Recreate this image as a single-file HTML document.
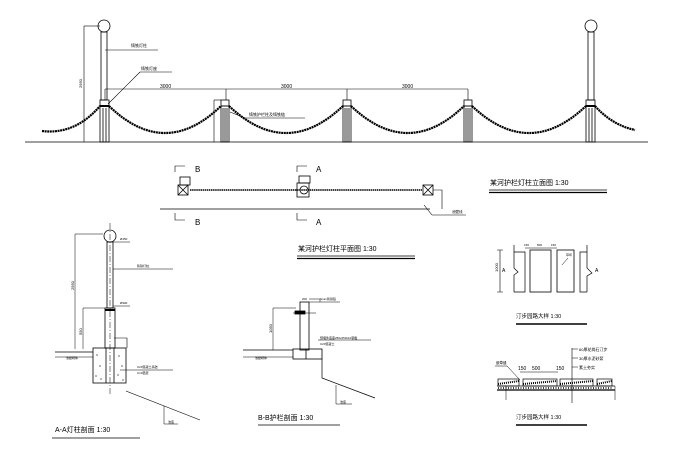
<!DOCTYPE html>
<html><head><meta charset="utf-8"><style>
html,body{margin:0;padding:0;background:#fff;}
svg{display:block;}
text{font-family:"Liberation Sans","Noto Sans CJK SC",sans-serif;fill:#000;}
</style></head><body>
<svg width="680" height="452" viewBox="0 0 680 452" xmlns="http://www.w3.org/2000/svg" stroke="#000" fill="none" stroke-width="0.8">
<!-- ELEVATION -->
<line x1="25" y1="142" x2="648" y2="142"/>
<!-- left lamp -->
<circle cx="104" cy="26" r="6"/>
<rect x="101" y="32" width="6" height="68"/>
<rect x="100" y="100" width="9" height="42"/>
<line x1="100" y1="106" x2="109" y2="106" stroke-width="2"/>
<line x1="103" y1="108" x2="103" y2="142"/><line x1="106" y1="108" x2="106" y2="142"/>
<!-- right lamp -->
<circle cx="591" cy="26" r="6"/>
<rect x="588" y="32" width="6" height="68"/>
<rect x="586" y="100" width="9" height="42"/>
<line x1="586" y1="106" x2="595" y2="106" stroke-width="2"/>
<line x1="589" y1="108" x2="589" y2="142"/><line x1="592" y1="108" x2="592" y2="142"/>
<!-- bollards -->
<g>
<rect x="221" y="100" width="8" height="6"/><rect x="221" y="106" width="8" height="36"/>
<line x1="223" y1="108" x2="223" y2="142"/><line x1="225" y1="108" x2="225" y2="142"/><line x1="227" y1="108" x2="227" y2="142"/>
<rect x="343" y="100" width="8" height="6"/><rect x="343" y="106" width="8" height="36"/>
<line x1="345" y1="108" x2="345" y2="142"/><line x1="347" y1="108" x2="347" y2="142"/><line x1="349" y1="108" x2="349" y2="142"/>
<rect x="464" y="100" width="8" height="6"/><rect x="464" y="106" width="8" height="36"/>
<line x1="466" y1="108" x2="466" y2="142"/><line x1="468" y1="108" x2="468" y2="142"/><line x1="470" y1="108" x2="470" y2="142"/>
</g>
<!-- chains -->
<g stroke-width="2.2" stroke-dasharray="2 0.6">
<path d="M42,131 Q75,135 100,106"/>
<path d="M109,106 Q165,160 221,106"/>
<path d="M229,106 Q286,160 343,106"/>
<path d="M351,106 Q408,160 464,106"/>
<path d="M472,106 Q529,160 586,106"/>
<path d="M595,106 Q612,125 635,130"/>
</g>
<!-- dims -->
<line x1="105" y1="89" x2="468" y2="89" stroke-width="0.6"/>
<line x1="105" y1="89" x2="105" y2="100" stroke-width="0.6"/><line x1="226" y1="89" x2="226" y2="100" stroke-width="0.6"/>
<line x1="347" y1="89" x2="347" y2="100" stroke-width="0.6"/><line x1="468" y1="89" x2="468" y2="100" stroke-width="0.6"/>
<text x="160" y="88" font-size="5" stroke="none">3000</text>
<text x="281" y="88" font-size="5" stroke="none">3000</text>
<text x="402" y="88" font-size="5" stroke="none">3000</text>
<line x1="84" y1="26" x2="84" y2="142" stroke-width="0.6"/><line x1="84" y1="26" x2="100" y2="26" stroke-width="0.6"/>
<text x="82" y="88" font-size="4" stroke="none" transform="rotate(-90 82 88)">2950</text>
<line x1="214" y1="100" x2="214" y2="142" stroke-width="0.6"/><line x1="214" y1="100" x2="221" y2="100" stroke-width="0.6"/>
<line x1="105" y1="50" x2="158" y2="50" stroke-width="0.6"/><text x="131" y="47" font-size="4" stroke="none">铸铁灯柱</text>
<line x1="108" y1="104" x2="140" y2="72" stroke-width="0.6"/><line x1="140" y1="72" x2="172" y2="72" stroke-width="0.6"/><text x="141" y="70" font-size="4" stroke="none">铸铁灯座</text>
<line x1="230" y1="112" x2="245" y2="118" stroke-width="0.6"/><line x1="245" y1="118" x2="305" y2="118" stroke-width="0.6"/><text x="249" y="116" font-size="4" stroke="none">铸铁护栏柱及铸铁链</text>

<!-- PLAN -->
<line x1="160" y1="209" x2="430" y2="209"/>
<line x1="190" y1="190" x2="422" y2="190" stroke-width="1.6" stroke-dasharray="1.5 0.6"/>
<rect x="178" y="185" width="10" height="10"/><path d="M178,185 L188,195 M188,185 L178,195"/>
<rect x="180" y="177" width="10" height="8"/>
<rect x="297" y="183" width="12" height="14"/><circle cx="304" cy="190" r="4"/>
<rect x="299" y="176" width="11" height="7"/>
<rect x="423" y="185" width="10" height="10"/><path d="M423,185 L433,195 M433,185 L423,195"/>
<path d="M433,190 L442,190 L442,209" stroke-width="0.6"/>
<line x1="424" y1="205" x2="432" y2="215" stroke-width="0.6"/><line x1="432" y1="215" x2="466" y2="215" stroke-width="0.6"/>
<text x="452" y="213" font-size="3.5" stroke="none">池壁线</text>
<path d="M175,172 L175,166 L185,166" stroke-width="0.6"/><text x="195" y="172" font-size="8" stroke="none">B</text>
<path d="M175,213 L175,220 L185,220" stroke-width="0.6"/><text x="195" y="225" font-size="8" stroke="none">B</text>
<path d="M297,172 L297,166 L307,166" stroke-width="0.6"/><text x="316" y="172" font-size="8" stroke="none">A</text>
<path d="M297,213 L297,220 L307,220" stroke-width="0.6"/><text x="316" y="225" font-size="8" stroke="none">A</text>
<text x="298" y="251" font-size="7" stroke="none">某河护栏灯柱平面图  1:30</text>
<line x1="297" y1="256" x2="415" y2="256"/><line x1="297" y1="258.5" x2="415" y2="258.5" stroke-width="1.2"/>

<text x="490" y="185" font-size="7" stroke="none">某河护栏灯柱立面图  1:30</text>
<line x1="489" y1="190" x2="607" y2="190"/><line x1="489" y1="192.5" x2="607" y2="192.5" stroke-width="1.2"/>

<!-- DETAIL 1 -->
<path d="M497,250 L503,250 M497,292 L503,292 M500,250 L500,292" stroke-width="0.6"/>
<text x="498" y="272" font-size="4" stroke="none" transform="rotate(-90 498 272)">1000</text>
<path d="M514,245 L514,268 L518,272 L514,275 L514,292" stroke-width="0.7"/>
<path d="M514,252 L525,252 L525,292 L514,292" stroke-width="0.7"/>
<rect x="530" y="250" width="21" height="42"/>
<rect x="557" y="250" width="17" height="42"/>
<path d="M587,245 L587,268 L592,273 L587,276 L587,292" stroke-width="0.7"/>
<path d="M587,252 L580,252 L580,292 L587,292" stroke-width="0.7"/>
<line x1="525" y1="248" x2="557" y2="248" stroke-width="0.5"/>
<text x="524" y="246" font-size="3" stroke="none">150</text><text x="537" y="246" font-size="3" stroke="none">500</text><text x="551" y="246" font-size="3" stroke="none">150</text>
<text x="502" y="272" font-size="5" stroke="none">A</text><text x="595" y="272" font-size="5" stroke="none">A</text>
<line x1="562" y1="265" x2="568" y2="258" stroke-width="0.5"/><text x="566" y="256" font-size="3" stroke="none">草坪</text>
<text x="516" y="318" font-size="5.5" stroke="none">汀步园路大样   1:30</text>
<line x1="516" y1="324" x2="587" y2="324" stroke-width="1.5"/>

<!-- DETAIL 2 -->
<line x1="497" y1="386" x2="615" y2="386"/>
<line x1="497" y1="390" x2="615" y2="390" stroke-width="1.2"/>
<g stroke-width="0.7">
<rect x="498" y="379" width="21" height="7"/><rect x="523" y="379" width="34" height="7"/><rect x="560" y="379" width="33" height="7"/><rect x="597" y="379" width="15" height="7"/>
</g>
<path d="M498,384 L519,381 M523,384 L557,381 M560,384 L593,381 M597,384 L612,381" stroke-width="2" stroke-dasharray="1 1"/>
<line x1="498" y1="388" x2="612" y2="388" stroke-width="1.5" stroke-dasharray="1 1.5"/>
<line x1="506" y1="386" x2="506" y2="400" stroke-width="0.5"/><line x1="615" y1="386" x2="615" y2="400" stroke-width="0.5"/>
<line x1="572" y1="348" x2="572" y2="403" stroke-width="0.6"/>
<path d="M572,349 L578,349 M572,358 L578,358 M572,367 L578,367" stroke-width="0.5"/>
<text x="579" y="351" font-size="4" stroke="none">60厚花岗石汀步</text>
<text x="579" y="360" font-size="4" stroke="none">30厚水泥砂浆</text>
<text x="579" y="369" font-size="4" stroke="none">素土夯实</text>
<path d="M495,366 L507,366 L520,380" stroke-width="0.5"/><text x="496" y="364" font-size="3.5" stroke="none">嵌草缝</text>
<line x1="520" y1="372" x2="558" y2="372" stroke-width="0.5"/>
<text x="518" y="370" font-size="5" stroke="none">150</text><text x="532" y="370" font-size="5" stroke="none">500</text><text x="556" y="370" font-size="5" stroke="none">150</text>
<text x="516" y="419" font-size="5.5" stroke="none">汀步园路大样   1:30</text>
<line x1="516" y1="425" x2="587" y2="425" stroke-width="1.5"/>

<!-- A-A SECTION -->
<circle cx="110" cy="236" r="6"/>
<line x1="110" y1="223" x2="110" y2="396" stroke-dasharray="6 2 1 2" stroke-width="0.5"/>
<rect x="107" y="242" width="6" height="66"/>
<rect x="105" y="308" width="10" height="40"/>
<line x1="105" y1="310" x2="115" y2="310" stroke-width="2"/>
<rect x="93" y="348" width="33" height="35"/>
<line x1="106" y1="348" x2="106" y2="383"/><line x1="114" y1="348" x2="114" y2="383"/>
<path d="M114,338 L127,338 L127,348" stroke-width="0.6"/>
<g fill="#000" stroke="none"><circle cx="97" cy="355" r="0.6"/><circle cx="100" cy="366" r="0.6"/><circle cx="96" cy="376" r="0.6"/><circle cx="101" cy="379" r="0.6"/><circle cx="119" cy="356" r="0.6"/><circle cx="122" cy="366" r="0.6"/><circle cx="118" cy="375" r="0.6"/><circle cx="123" cy="380" r="0.6"/></g>
<line x1="55" y1="352" x2="93" y2="352"/><line x1="55" y1="357" x2="93" y2="357" stroke-width="0.5"/>
<text x="66" y="359" font-size="3" stroke="none">池壁砌体</text>
<path d="M126,391 L200,420" stroke-width="0.6"/><path d="M164,406 L164,424 L178,424" stroke-width="0.5"/><text x="168" y="423" font-size="3" stroke="none">池底</text>
<path d="M75,234 L103,234 M75,234 L75,349 M83,308 L105,308 M83,308 L83,349" stroke-width="0.5"/>
<text x="74" y="290" font-size="4" stroke="none" transform="rotate(-90 74 290)">2950</text>
<text x="82" y="335" font-size="4" stroke="none" transform="rotate(-90 82 335)">550</text>
<line x1="113" y1="269" x2="173" y2="269" stroke-width="0.5"/><text x="137" y="267" font-size="3" stroke="none">铸铁灯柱</text>
<line x1="113" y1="242" x2="130" y2="242" stroke-width="0.5"/><text x="120" y="240" font-size="3" stroke="none">Ø150</text>
<line x1="113" y1="306" x2="130" y2="306" stroke-width="0.5"/><text x="120" y="304" font-size="3" stroke="none">Ø300</text>
<line x1="120" y1="370" x2="173" y2="370" stroke-width="0.5"/><text x="137" y="368" font-size="3" stroke="none">C20混凝土基础</text><text x="137" y="374" font-size="3" stroke="none">C10垫层</text>
<text x="55" y="432" font-size="7" stroke="none">A-A灯柱剖面   1:30</text>
<line x1="52" y1="438" x2="140" y2="438"/>

<!-- B-B SECTION -->
<rect x="300" y="302" width="9" height="48"/>
<line x1="293" y1="313" x2="316" y2="313" stroke-width="0.6"/>
<rect x="295" y="311" width="10" height="3" fill="#000"/>
<rect x="293" y="349" width="29" height="10"/>
<line x1="306" y1="349" x2="306" y2="359"/>
<line x1="243" y1="350" x2="293" y2="350"/><line x1="243" y1="357" x2="293" y2="357" stroke-width="0.5"/>
<text x="255" y="359" font-size="3" stroke="none">池壁砌体</text>
<path d="M322,359 L322,378 L375,398" stroke-width="0.7"/>
<path d="M336,385 L336,404 L352,404" stroke-width="0.5"/><text x="340" y="403" font-size="3" stroke="none">池底</text>
<path d="M273,308 L296,308 M273,308 L273,350" stroke-width="0.5"/>
<text x="272" y="333" font-size="4" stroke="none" transform="rotate(-90 272 333)">1050</text>
<path d="M309,299 L320,299 L320,302 M309,302 L340,302" stroke-width="0.5"/><text x="320" y="300" font-size="3" stroke="none">Smm铸铁链</text>
<text x="302" y="300" font-size="3" stroke="none">200</text>
<line x1="318" y1="340" x2="371" y2="340" stroke-width="0.5"/><text x="320" y="339" font-size="3" stroke="none">预埋件底座250x250x10钢板</text>
<text x="320" y="345" font-size="3" stroke="none">C20混凝土</text>
<text x="258" y="420" font-size="7" stroke="none">B-B护栏剖面   1:30</text>
<line x1="258" y1="425" x2="340" y2="425"/>
</svg>
</body></html>
